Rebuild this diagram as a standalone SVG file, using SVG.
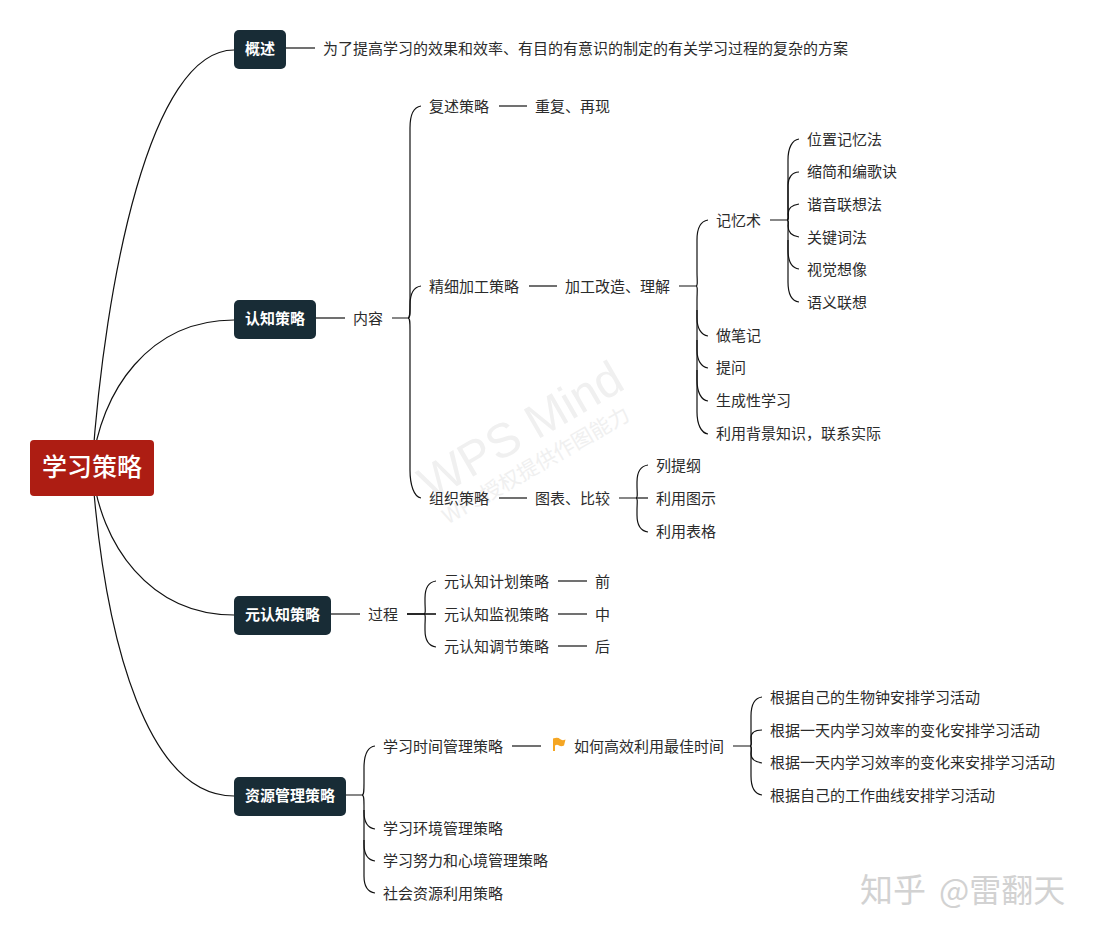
<svg xmlns="http://www.w3.org/2000/svg" width="1094" height="937" viewBox="0 0 1094 937">
<style>
text{font-family:"Noto Sans CJK SC","Liberation Sans",sans-serif}
.t{font-size:15px;fill:#2b2b2b}
.m{font-size:15px;fill:#fff;font-weight:700;text-anchor:middle}
.r{font-size:25px;fill:#fff;font-weight:500;text-anchor:middle}
.b{fill:#182c36}
#connectors path{fill:none;stroke:#111;stroke-width:1.2}
.wm{fill:#f0f0f0}
</style>
<rect width="1094" height="937" fill="#fff"/>
<g id="watermark" class="wm" transform="rotate(-30 520 430)">
<text x="407" y="447" font-size="48" style="font-family:'Liberation Sans',sans-serif">WPS Mind</text>
<text x="410" y="476" font-size="21">WPS授权提供作图能力</text>
</g>
<g id="connectors">
<path d="M92 468C105 280 150 50 234 50"/>
<path d="M92 468C100 390 150 320 234 320"/>
<path d="M92 468C100 545 150 615 234 615"/>
<path d="M92 468C105 650 150 796 234 796"/>
<path d="M286 48H315"/>
<path d="M316 318H345"/>
<path d="M392 318H408C410 318 410 314 410 308V128C410 115 414 107 421 106"/>
<path d="M408 318C410 318 410 312 410 305C410 293 414 287 421 286"/>
<path d="M408 318C410 318 410 322 410 330V470C410 485 414 497 421 498"/>
<path d="M499 106H527"/>
<path d="M529 286H557"/>
<path d="M499 498H527"/>
<path d="M679 286H696C698 286 697 280 697 272V240C697 228 701 221 708 220"/>
<path d="M696 286C698 286 697 292 697 300V318C697 328 701 335 708 336"/>
<path d="M697 310V350C697 360 701 367 708 368"/>
<path d="M697 340V380C697 392 701 400 708 401"/>
<path d="M697 370V412C697 424 701 433 708 434"/>
<path d="M770 220H787C789 220 788 214 788 208V160C788 148 792 140 799 139"/>
<path d="M787 220C789 220 788 214 788 205V185C788 178 792 172 799 172"/>
<path d="M787 220C789 220 788 216 788 214C788 208 792 205 799 204"/>
<path d="M787 220C789 220 788 224 788 226C788 232 792 236 799 237"/>
<path d="M787 220C789 220 788 226 788 235V250C788 262 792 268 799 269"/>
<path d="M788 240V282C788 294 792 301 799 302"/>
<path d="M619 498H636C638 498 637 492 637 486V482C637 472 641 466 648 465"/>
<path d="M636 498H648"/>
<path d="M636 498C638 498 637 504 637 510V515C637 525 641 531 648 532"/>
<path d="M331 614H360"/>
<path d="M407 614H424C426 614 425 608 425 602V598C425 588 429 582 436 581"/>
<path d="M407 614H436" style="stroke-width:1.6"/>
<path d="M424 614C426 614 425 620 425 626V630C425 640 429 646 436 647"/>
<path d="M558 581H587"/>
<path d="M558 614H587"/>
<path d="M558 646H587"/>
<path d="M346 795H362C364 795 364 790 364 783V768C364 755 368 747 375 746"/>
<path d="M362 795C364 795 364 800 364 806V812C364 822 368 828 375 829"/>
<path d="M364 810V844C364 854 368 860 375 861"/>
<path d="M364 840V876C364 886 368 892 375 893"/>
<path d="M512 746H541"/>
<path d="M733 746H750C752 746 751 741 751 735V716C751 705 755 698 762 697"/>
<path d="M750 746C752 746 751 741 751 738C751 733 755 730 762 730"/>
<path d="M750 746C752 746 751 751 751 754C751 759 755 762 762 763"/>
<path d="M750 746C752 746 751 751 751 757V776C751 787 755 794 762 795"/>
</g>
<g id="root"><rect x="30" y="440" width="124" height="56" rx="4" fill="#ad1d13"/><text class="r" x="92" y="476">学习策略</text></g>
<g id="n-gaishu"><rect class="b" x="234" y="30" width="52" height="39" rx="5"/><text class="m" x="260" y="54">概述</text></g>
<g id="n-renzhi"><rect class="b" x="234" y="300" width="82" height="39" rx="5"/><text class="m" x="275" y="324">认知策略</text></g>
<g id="n-yuan"><rect class="b" x="234" y="596" width="97" height="39" rx="5"/><text class="m" x="282.500" y="620">元认知策略</text></g>
<g id="n-ziyuan"><rect class="b" x="234" y="777" width="112" height="39" rx="5"/><text class="m" x="290" y="801">资源管理策略</text></g>
<g id="labels">
<g id="l1"><text class="t" x="323" y="54">为了提高学习的效果和效率、有目的有意识的制定的有关学习过程的复杂的方案</text></g>
<g id="l2"><text class="t" x="353" y="324">内容</text></g>
<g id="l3"><text class="t" x="429" y="112">复述策略</text></g>
<g id="l4"><text class="t" x="535" y="112">重复、再现</text></g>
<g id="l5"><text class="t" x="429" y="292">精细加工策略</text></g>
<g id="l6"><text class="t" x="565" y="292">加工改造、理解</text></g>
<g id="l7"><text class="t" x="429" y="504">组织策略</text></g>
<g id="l8"><text class="t" x="535" y="504">图表、比较</text></g>
<g id="l9"><text class="t" x="716" y="226">记忆术</text></g>
<g id="l10"><text class="t" x="716" y="341">做笔记</text></g>
<g id="l11"><text class="t" x="716" y="373">提问</text></g>
<g id="l12"><text class="t" x="716" y="406">生成性学习</text></g>
<g id="l13"><text class="t" x="716" y="439">利用背景知识，联系实际</text></g>
<g id="l14"><text class="t" x="807" y="145">位置记忆法</text></g>
<g id="l15"><text class="t" x="807" y="177">缩简和编歌诀</text></g>
<g id="l16"><text class="t" x="807" y="210">谐音联想法</text></g>
<g id="l17"><text class="t" x="807" y="243">关键词法</text></g>
<g id="l18"><text class="t" x="807" y="275">视觉想像</text></g>
<g id="l19"><text class="t" x="807" y="308">语义联想</text></g>
<g id="l20"><text class="t" x="656" y="471">列提纲</text></g>
<g id="l21"><text class="t" x="656" y="504">利用图示</text></g>
<g id="l22"><text class="t" x="656" y="537">利用表格</text></g>
<g id="l23"><text class="t" x="368" y="620">过程</text></g>
<g id="l24"><text class="t" x="444" y="587">元认知计划策略</text></g>
<g id="l25"><text class="t" x="444" y="620">元认知监视策略</text></g>
<g id="l26"><text class="t" x="444" y="652">元认知调节策略</text></g>
<g id="l27"><text class="t" x="595" y="587">前</text></g>
<g id="l28"><text class="t" x="595" y="620">中</text></g>
<g id="l29"><text class="t" x="595" y="652">后</text></g>
<g id="l30"><text class="t" x="383" y="752">学习时间管理策略</text></g>
<g id="l31"><path d="M553 738.500Q558 737 560 739T565.500 739.500L564 745.500Q561 747 559 745.500T555 745.500V751H553Z" fill="#f5a623"/><text class="t" x="574" y="752">如何高效利用最佳时间</text></g>
<g id="l32"><text class="t" x="770" y="703">根据自己的生物钟安排学习活动</text></g>
<g id="l33"><text class="t" x="770" y="736">根据一天内学习效率的变化安排学习活动</text></g>
<g id="l34"><text class="t" x="770" y="768">根据一天内学习效率的变化来安排学习活动</text></g>
<g id="l35"><text class="t" x="770" y="801">根据自己的工作曲线安排学习活动</text></g>
<g id="l36"><text class="t" x="383" y="834">学习环境管理策略</text></g>
<g id="l37"><text class="t" x="383" y="866">学习努力和心境管理策略</text></g>
<g id="l38"><text class="t" x="383" y="899">社会资源利用策略</text></g>
</g>
<text x="860" y="902" font-size="33" fill="#d2d2d2">知乎<tspan x="939" font-size="32">@雷翻天</tspan></text>
</svg>
